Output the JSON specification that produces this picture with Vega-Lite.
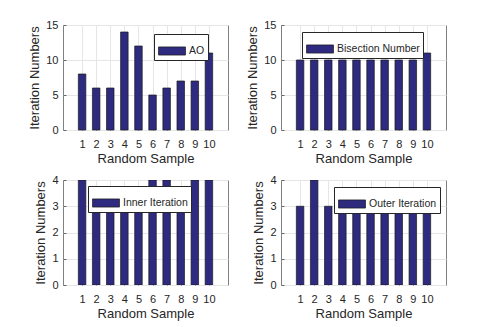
{
  "$schema": "https://vega.github.io/schema/vega-lite/v6.json",
  "padding": {"left": 28, "top": 18, "right": 5, "bottom": 5},
  "background": "white",
  "datasets": {
    "d": [
      {"sample": 1, "m": "AO", "value": 8}, {"sample": 2, "m": "AO", "value": 6}, {"sample": 3, "m": "AO", "value": 6}, {"sample": 4, "m": "AO", "value": 14}, {"sample": 5, "m": "AO", "value": 12},
      {"sample": 6, "m": "AO", "value": 5}, {"sample": 7, "m": "AO", "value": 6}, {"sample": 8, "m": "AO", "value": 7}, {"sample": 9, "m": "AO", "value": 7}, {"sample": 10, "m": "AO", "value": 11},
      {"sample": 1, "m": "Bisection Number", "value": 10}, {"sample": 2, "m": "Bisection Number", "value": 10}, {"sample": 3, "m": "Bisection Number", "value": 10}, {"sample": 4, "m": "Bisection Number", "value": 10}, {"sample": 5, "m": "Bisection Number", "value": 10},
      {"sample": 6, "m": "Bisection Number", "value": 10}, {"sample": 7, "m": "Bisection Number", "value": 10}, {"sample": 8, "m": "Bisection Number", "value": 10}, {"sample": 9, "m": "Bisection Number", "value": 10}, {"sample": 10, "m": "Bisection Number", "value": 11},
      {"sample": 1, "m": "Inner Iteration", "value": 4}, {"sample": 2, "m": "Inner Iteration", "value": 3}, {"sample": 3, "m": "Inner Iteration", "value": 3}, {"sample": 4, "m": "Inner Iteration", "value": 3}, {"sample": 5, "m": "Inner Iteration", "value": 3},
      {"sample": 6, "m": "Inner Iteration", "value": 4}, {"sample": 7, "m": "Inner Iteration", "value": 4}, {"sample": 8, "m": "Inner Iteration", "value": 3}, {"sample": 9, "m": "Inner Iteration", "value": 4}, {"sample": 10, "m": "Inner Iteration", "value": 4},
      {"sample": 1, "m": "Outer Iteration", "value": 3}, {"sample": 2, "m": "Outer Iteration", "value": 4}, {"sample": 3, "m": "Outer Iteration", "value": 3}, {"sample": 4, "m": "Outer Iteration", "value": 3}, {"sample": 5, "m": "Outer Iteration", "value": 3},
      {"sample": 6, "m": "Outer Iteration", "value": 3}, {"sample": 7, "m": "Outer Iteration", "value": 3}, {"sample": 8, "m": "Outer Iteration", "value": 3}, {"sample": 9, "m": "Outer Iteration", "value": 3}, {"sample": 10, "m": "Outer Iteration", "value": 3}
    ]
  },
  "columns": 2,
  "spacing": {"column": 17, "row": 7},
  "resolve": {"scale": {"color": "independent", "y": "independent", "x": "independent"}, "legend": {"color": "independent"}},
  "concat": [
    {
      "width": 165, "height": 105,
      "data": {"name": "d"},
      "transform": [{"filter": "datum.m === 'AO'"}],
      "mark": {"type": "bar", "width": 7.5, "stroke": "#1a1a1a", "strokeWidth": 0.7},
      "encoding": {
        "x": {"field": "sample", "type": "quantitative", "scale": {"domain": [0, 11], "nice": false}, "axis": {"values": [1,2,3,4,5,6,7,8,9,10], "title": "Random Sample"}},
        "y": {"field": "value", "type": "quantitative", "scale": {"domain": [0, 15], "nice": false}, "axis": {"values": [0, 5, 10, 15], "title": "Iteration Numbers"}},
        "color": {"field": "m", "type": "nominal", "scale": {"range": ["#2E2A7F"]}, "legend": {"orient": "none", "legendX": 91, "legendY": 9}}
      }
    },
    {
      "width": 165, "height": 105,
      "data": {"name": "d"},
      "transform": [{"filter": "datum.m === 'Bisection Number'"}],
      "mark": {"type": "bar", "width": 7.5, "stroke": "#1a1a1a", "strokeWidth": 0.7},
      "encoding": {
        "x": {"field": "sample", "type": "quantitative", "scale": {"domain": [0, 11], "nice": false}, "axis": {"values": [1,2,3,4,5,6,7,8,9,10], "title": "Random Sample"}},
        "y": {"field": "value", "type": "quantitative", "scale": {"domain": [0, 15], "nice": false}, "axis": {"values": [0, 5, 10, 15], "title": "Iteration Numbers"}},
        "color": {"field": "m", "type": "nominal", "scale": {"range": ["#2E2A7F"]}, "legend": {"orient": "none", "legendX": 21, "legendY": 7}}
      }
    },
    {
      "width": 165, "height": 105,
      "data": {"name": "d"},
      "transform": [{"filter": "datum.m === 'Inner Iteration'"}],
      "mark": {"type": "bar", "width": 7.5, "stroke": "#1a1a1a", "strokeWidth": 0.7, "clip": true},
      "encoding": {
        "x": {"field": "sample", "type": "quantitative", "scale": {"domain": [0, 11], "nice": false}, "axis": {"values": [1,2,3,4,5,6,7,8,9,10], "title": "Random Sample"}},
        "y": {"field": "value", "type": "quantitative", "scale": {"domain": [0, 4], "nice": false}, "axis": {"values": [0, 1, 2, 3, 4], "title": "Iteration Numbers"}},
        "color": {"field": "m", "type": "nominal", "scale": {"range": ["#2E2A7F"]}, "legend": {"orient": "none", "legendX": 25, "legendY": 6}}
      }
    },
    {
      "width": 165, "height": 105,
      "data": {"name": "d"},
      "transform": [{"filter": "datum.m === 'Outer Iteration'"}],
      "mark": {"type": "bar", "width": 7.5, "stroke": "#1a1a1a", "strokeWidth": 0.7, "clip": true},
      "encoding": {
        "x": {"field": "sample", "type": "quantitative", "scale": {"domain": [0, 11], "nice": false}, "axis": {"values": [1,2,3,4,5,6,7,8,9,10], "title": "Random Sample"}},
        "y": {"field": "value", "type": "quantitative", "scale": {"domain": [0, 4], "nice": false}, "axis": {"values": [0, 1, 2, 3, 4], "title": "Iteration Numbers"}},
        "color": {"field": "m", "type": "nominal", "scale": {"range": ["#2E2A7F"]}, "legend": {"orient": "none", "legendX": 53, "legendY": 7}}
      }
    }
  ],
  "config": {
    "font": "Liberation Sans",
    "view": {"stroke": "#808080", "strokeWidth": 1},
    "axis": {
      "domain": false,
      "grid": true,
      "gridColor": "#e6e6e6",
      "gridWidth": 1,
      "ticks": true,
      "tickSize": -3,
      "tickColor": "#666666",
      "labelFont": "Liberation Sans",
      "labelFontSize": 11,
      "labelColor": "#262626",
      "titleFont": "Liberation Sans",
      "titleFontSize": 13,
      "titleFontWeight": "normal",
      "titleColor": "#262626"
    },
    "axisX": {"labelPadding": 11, "titlePadding": 3, "labelAngle": 0},
    "axisY": {"labelPadding": 8, "titlePadding": 4},
    "legend": {
      "title": null,
      "fillColor": "white",
      "strokeColor": "#262626",
      "padding": 3,
      "symbolType": "M-1,-0.3H1V0.3H-1Z",
      "symbolSize": 729,
      "symbolStrokeColor": "#1a1a1a",
      "symbolStrokeWidth": 0.7,
      "symbolOpacity": 1,
      "symbolOffset": 1,
      "labelFont": "Liberation Sans",
      "labelFontSize": 10.5,
      "labelColor": "#262626",
      "labelOffset": 3
    }
  }
}
